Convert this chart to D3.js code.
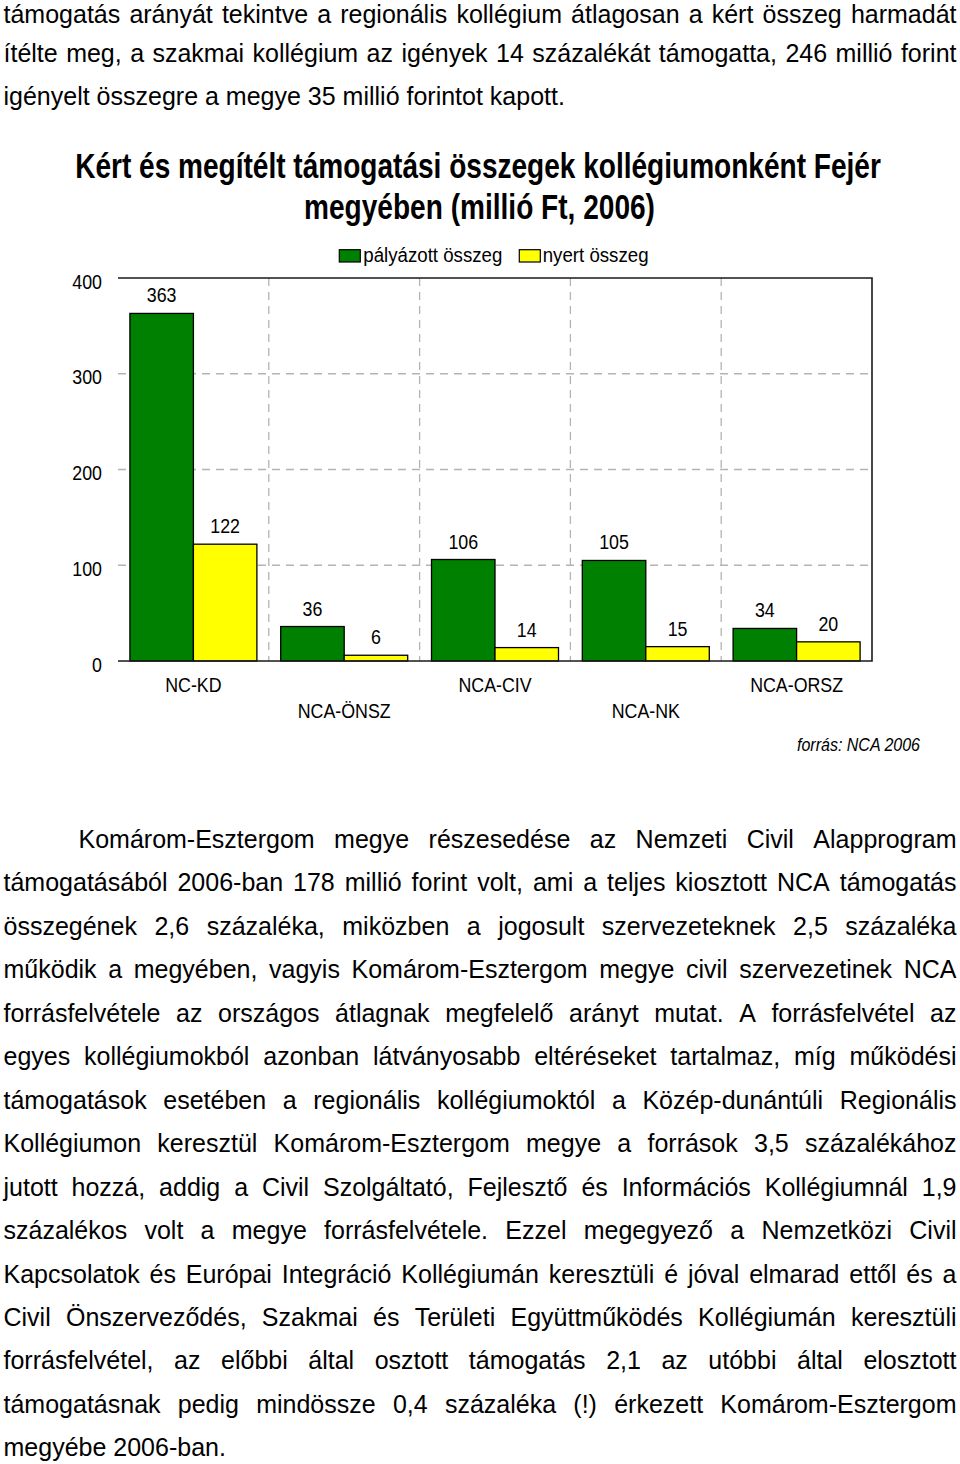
<!DOCTYPE html>
<html>
<head>
<meta charset="utf-8">
<script src="https://cdn.jsdelivr.net/npm/d3@7/dist/d3.min.js"></script>
<style>
  html, body { margin: 0; padding: 0; background: #fff; }
  svg { display: block; }
</style>
</head>
<body>
<svg id="page" width="960" height="1464"></svg>
<script>
// ---------------- DATA ----------------
const categories = ["NC-KD", "NCA-ÖNSZ", "NCA-CIV", "NCA-NK", "NCA-ORSZ"];
const seriesNames = ["pályázott összeg", "nyert összeg"];
const palyazott = [363, 36, 106, 105, 34];
const nyert = [122, 6, 14, 15, 20];
const yTicks = [0, 100, 200, 300, 400];
const titleLines = [
  "Kért és megítélt támogatási összegek kollégiumonként Fejér",
  "megyében (millió Ft, 2006)"
];
const sourceNote = "forrás: NCA 2006";

const para1 = [
  "támogatás arányát tekintve a regionális kollégium átlagosan a kért összeg harmadát",
  "ítélte meg, a szakmai kollégium az igények 14 százalékát támogatta, 246 millió forint",
  "igényelt összegre a megye 35 millió forintot kapott."
];
const para2 = [
  "Komárom-Esztergom megye részesedése az Nemzeti Civil Alapprogram",
  "támogatásából 2006-ban 178 millió forint volt, ami a teljes kiosztott NCA támogatás",
  "összegének 2,6 százaléka, miközben a jogosult szervezeteknek 2,5 százaléka",
  "működik a megyében, vagyis Komárom-Esztergom megye civil szervezetinek NCA",
  "forrásfelvétele az országos átlagnak megfelelő arányt mutat. A forrásfelvétel az",
  "egyes kollégiumokból azonban látványosabb eltéréseket tartalmaz, míg működési",
  "támogatások esetében a regionális kollégiumoktól a Közép-dunántúli Regionális",
  "Kollégiumon keresztül Komárom-Esztergom megye a források 3,5 százalékához",
  "jutott hozzá, addig a Civil Szolgáltató, Fejlesztő és Információs Kollégiumnál 1,9",
  "százalékos volt a megye forrásfelvétele. Ezzel megegyező a Nemzetközi Civil",
  "Kapcsolatok és Európai Integráció Kollégiumán keresztüli é jóval elmarad ettől és a",
  "Civil Önszerveződés, Szakmai és Területi Együttműködés Kollégiumán keresztüli",
  "forrásfelvétel, az előbbi által osztott támogatás 2,1 az utóbbi által elosztott",
  "támogatásnak pedig mindössze 0,4 százaléka (!) érkezett Komárom-Esztergom",
  "megyébe 2006-ban."
];

// ---------------- SETUP ----------------
const svg = d3.select("#page");
svg.append("rect").attr("width", 960).attr("height", 1464).attr("fill", "#fff");

const BODY_FONT = "'Liberation Sans', Arial, sans-serif";
const NARROW = 0.89;
const colors = ["#008000", "#ffff00"];

// ---------------- BODY TEXT ----------------
const LH = 43.45;
function drawParagraph(lines, ys, indent) {
  const g = svg.append("g")
    .attr("font-family", BODY_FONT)
    .attr("font-size", 25)
    .attr("fill", "#000");
  const L = 3.5, R = 956.5;
  lines.forEach((line, i) => {
    const y = ys(i);
    const left = (i === 0 && indent) ? 78.5 : L;
    const last = i === lines.length - 1;
    if (last) {
      g.append("text").attr("x", left).attr("y", y).text(line);
      return;
    }
    const words = line.split(" ");
    const nodes = words.map(w => g.append("text").attr("y", y).text(w));
    const widths = nodes.map(n => n.node().getComputedTextLength());
    const total = d3.sum(widths);
    const gap = (R - left - total) / (words.length - 1);
    let x = left;
    nodes.forEach((n, k) => {
      n.attr("x", x);
      x += widths[k] + gap;
    });
  });
}
// first line sits at the very top edge of the page; keep its accents visible
drawParagraph(para1, i => (i === 0 ? 23 : 105 - (2 - i) * LH), false);
drawParagraph(para2, i => 848 + i * LH, true);

// ---------------- CHART ----------------
const plot = { left: 118, right: 872, top: 278, bottom: 661 };

const x0 = d3.scaleBand().domain(categories).range([plot.left, plot.right]).padding(0);
const x1 = d3.scaleBand().domain(seriesNames).range([0, x0.bandwidth()])
  .paddingInner(0).paddingOuter(0.1875);
const y = d3.scaleLinear().domain([0, 400]).range([plot.bottom, plot.top]);

const chart = svg.append("g");

// title (condensed bold, scaled horizontally to the reference's line widths)
const titleG = chart.append("g")
  .attr("font-family", BODY_FONT)
  .attr("font-weight", "bold")
  .attr("font-size", 35)
  .attr("fill", "#000");
const titleSpecs = [{ cx: 478, y: 178.3, w: 806 }, { cx: 479.5, y: 218.5, w: 351 }];
titleLines.forEach((t, i) => {
  const el = titleG.append("text").attr("text-anchor", "middle").text(t);
  const natural = el.node().getComputedTextLength();
  const s = titleSpecs[i].w / natural;
  el.attr("transform", `translate(${titleSpecs[i].cx},${titleSpecs[i].y}) scale(${s},1)`);
});

function narrowText(parent, x, yy, str, size, anchor) {
  return parent.append("text")
    .attr("transform", `translate(${x},${yy}) scale(${NARROW},1)`)
    .attr("font-family", BODY_FONT)
    .attr("font-size", size)
    .attr("text-anchor", anchor || "start")
    .attr("fill", "#000")
    .text(str);
}

// legend
const legendItems = [
  { name: seriesNames[0], color: colors[0], bx: 339.3, tx: 363.3 },
  { name: seriesNames[1], color: colors[1], bx: 519.3, tx: 542.7 }
];
legendItems.forEach(it => {
  chart.append("rect")
    .attr("x", it.bx).attr("y", 249.7)
    .attr("width", 21).attr("height", 12.3)
    .attr("fill", it.color).attr("stroke", "#000").attr("stroke-width", 1.2);
  narrowText(chart, it.tx, 262, it.name, 21, "start");
});

// horizontal dashed grid
const gridVals = yTicks.filter(v => v > 0 && v < 400);
chart.append("g").selectAll("line").data(gridVals).join("line")
  .attr("x1", plot.left).attr("x2", plot.right)
  .attr("y1", d => y(d)).attr("y2", d => y(d))
  .attr("stroke", "#b4b4b4").attr("stroke-width", 1.3)
  .attr("stroke-dasharray", "8,6");

// vertical dashed grid at category boundaries
chart.append("g").selectAll("line").data(categories.slice(1)).join("line")
  .attr("x1", d => x0(d)).attr("x2", d => x0(d))
  .attr("y1", plot.top).attr("y2", plot.bottom)
  .attr("stroke", "#b4b4b4").attr("stroke-width", 1.3)
  .attr("stroke-dasharray", "8,6");

// bars
const rows = categories.map((c, i) => ({ cat: c, vals: [palyazott[i], nyert[i]] }));
const groups = chart.append("g").selectAll("g").data(rows).join("g")
  .attr("transform", d => `translate(${x0(d.cat)},0)`);
groups.selectAll("rect")
  .data(d => d.vals.map((v, k) => ({ s: seriesNames[k], v, k })))
  .join("rect")
  .attr("x", d => x1(d.s))
  .attr("width", x1.bandwidth())
  .attr("y", d => y(d.v))
  .attr("height", d => y(0) - y(d.v))
  .attr("fill", d => colors[d.k])
  .attr("stroke", "#000").attr("stroke-width", 1.3);

// value labels
groups.each(function (d) {
  const g = d3.select(this);
  d.vals.forEach((v, k) => {
    narrowText(g, x1(seriesNames[k]) + x1.bandwidth() / 2, y(v) - 11, String(v), 20, "middle");
  });
});

// frame: top, right, bottom
chart.append("path")
  .attr("d", `M${plot.left},${plot.top}H${plot.right}V${plot.bottom}H${plot.left}`)
  .attr("fill", "none").attr("stroke", "#1a1a1a").attr("stroke-width", 1.6);

// y axis labels
const yAxis = chart.append("g")
  .attr("transform", `translate(${plot.left},0)`)
  .call(d3.axisLeft(y).tickValues(yTicks).tickSize(0).tickPadding(0).tickFormat(d3.format("d")));
yAxis.select(".domain").remove();
yAxis.selectAll("text")
  .attr("x", null).attr("dy", null)
  .attr("transform", `translate(-16,10) scale(${NARROW},1)`)
  .attr("font-family", BODY_FONT).attr("font-size", 20).attr("fill", "#000");

// x axis labels (staggered)
const xAxis = chart.append("g")
  .attr("transform", `translate(0,${plot.bottom})`)
  .call(d3.axisBottom(x0).tickSize(0).tickPadding(0));
xAxis.select(".domain").remove();
xAxis.selectAll("text")
  .attr("y", null).attr("dy", null)
  .attr("transform", (d, i) => `translate(0,${i % 2 ? 57 : 30.7}) scale(${NARROW},1)`)
  .attr("font-family", BODY_FONT).attr("font-size", 20).attr("fill", "#000");

// source note
narrowText(chart, 920, 751, sourceNote, 18, "end").attr("font-style", "italic");
</script>
</body>
</html>
